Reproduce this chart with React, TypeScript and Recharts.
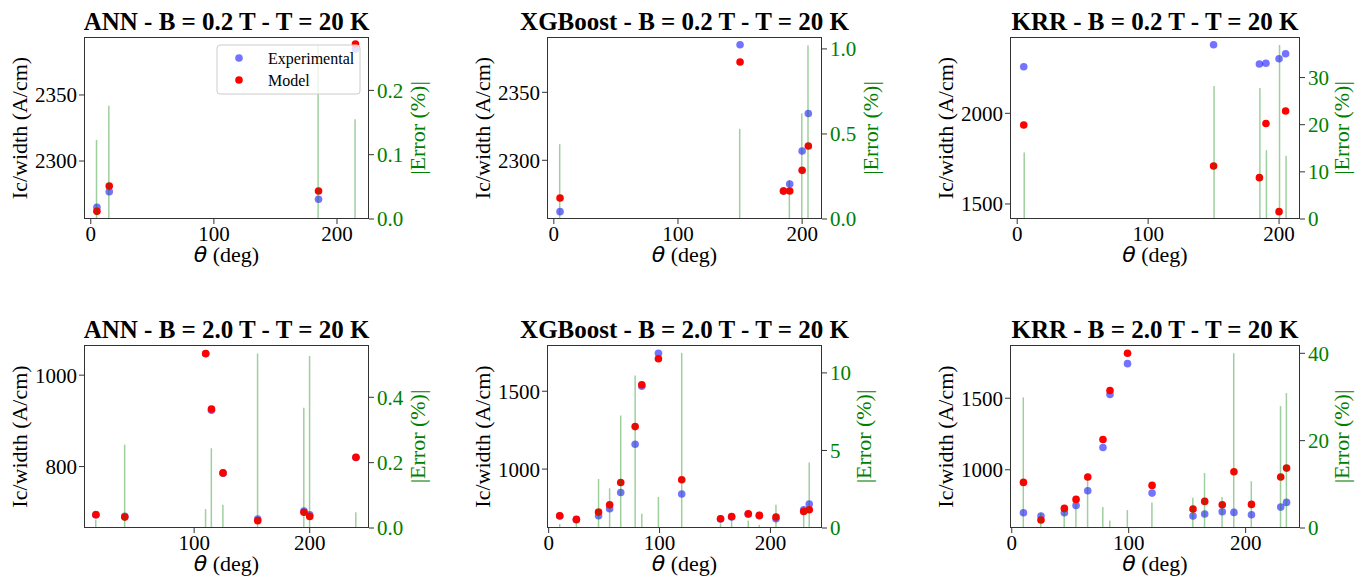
import { Bar, ComposedChart, Scatter, XAxis, YAxis } from 'recharts'

const SERIF = '"Liberation Serif", "Times New Roman", serif'
const EXP_COLOR = '#0000ff'
const MODEL_COLOR = '#ff0000'
const ERR_COLOR = '#008000'
const FRAME = '#333'
const TICK_FS = 21
const LABEL_FS = 22

// B = 0.2 T, T = 20 K
const ANN_02_THETA = [5, 15, 185, 215]
const ANN_02_EXP = [2264.9, 2276.8, 2271.0, 2384.8]
const ANN_02_MODEL = [2261.9, 2281.0, 2277.3, 2388.6]
const ANN_02_ERR = [0.123, 0.176, 0.269, 0.155]

const XGB_02_THETA = [5, 150, 185, 190, 200, 205]
const XGB_02_EXP = [2262.2, 2385.0, 2277.4, 2282.6, 2306.8, 2334.4]
const XGB_02_MODEL = [2272.3, 2372.3, 2277.4, 2277.4, 2292.6, 2310.5]
const XGB_02_ERR = [0.44, 0.53, 0, 0.23, 0.62, 1.02]

const KRR_02_THETA = [5, 150, 185, 190, 200, 205]
const KRR_02_EXP = [2257, 2378, 2272, 2276, 2301, 2328.5]
const KRR_02_MODEL = [1935.5, 1709.6, 1645, 1944, 1457.6, 2012.8]
const KRR_02_ERR = [14.1, 28.2, 27.8, 14.6, 36.9, 13.4]

// B = 2.0 T, T = 20 K
const ANN_20_THETA = [15, 40, 110, 115, 125, 155, 195, 200, 240]
const ANN_20_EXP = [694.8, 691.3, 1046.7, 923.5, 785.6, 685.4, 702.6, 694.7, 819.9]
const ANN_20_MODEL = [694.6, 689.5, 1047.3, 925.8, 786.2, 681.7, 700.0, 691.0, 820.3]
const ANN_20_ERR = [0.025, 0.255, 0.058, 0.244, 0.071, 0.534, 0.368, 0.526, 0.048]

const THETA_20 = [10, 25, 45, 55, 65, 78, 84, 99, 120, 155, 165, 180, 190, 205, 230, 235]

const XGB_20_EXP = [698.8, 674.6, 700.6, 745.5, 850, 1160, 1532, 1743.6, 839.7, 679.6, 692.3, 710, 701.2, 681.6, 739, 775.6]
const XGB_20_MODEL = [700.6, 677, 724, 771, 914, 1273, 1542, 1709, 931.4, 681.6, 696, 713.5, 702.6, 692, 728, 739]
const XGB_20_ERR = [0.26, 0.36, 3.16, 2.56, 7.25, 9.83, 0.92, 2.0, 11.29, 0.3, 0.54, 0.49, 0.2, 1.5, 1.39, 4.23]

const KRR_20_EXP = [700, 677, 700, 751, 853, 1155.8, 1525.7, 1741.8, 837, 677, 690.7, 707, 702, 686, 739.7, 772]
const KRR_20_MODEL = [911.6, 649, 730, 793, 949, 1211.6, 1553.6, 1814, 890.7, 725.6, 779, 755.7, 986, 758, 949, 1011.6]
const KRR_20_ERR = [29.9, 3.5, 4.3, 5.6, 11.2, 4.8, 1.7, 4.1, 5.85, 6.9, 12.6, 7.1, 40.0, 10.7, 27.9, 30.9]

type Box = { left: number; top: number; width: number; height: number }

type PanelProps = {
  title: string
  theta: number[]
  exp: number[]
  model: number[]
  err: number[]
  box: Box
  xDomain: [number, number]
  xTicks: number[]
  yDomain: [number, number]
  yTicks: number[]
  errDomain: [number, number]
  errTicks: number[]
  errDigits: number
  errLabelGap: number
  legend?: boolean
}

const PAD = { l: 70, r: 70, t: 10, b: 50 }
const AXIS_W = 60
const AXIS_H = 30

function dotShape (color: string, opacity: number) {
  return (p: { cx?: number; cy?: number }) => {
    if (p.cx == null || p.cy == null) return <g />
    return <circle cx={p.cx} cy={p.cy} r={3.8} fill={color} fillOpacity={opacity} />
  }
}

function Panel (props: PanelProps) {
  const { box } = props
  const data = props.theta.map((t, i) => ({ theta: t, exp: props.exp[i], model: props.model[i], err: props.err[i] }))
  const midX = box.left + box.width / 2
  const midY = box.top + box.height / 2
  const right = box.left + box.width
  const tickStyle = { fontSize: TICK_FS, fontFamily: SERIF, fill: '#000' }
  return (
    <>
      <div style={{ position: 'absolute', left: box.left - PAD.l, top: box.top - PAD.t }}>
        <ComposedChart
          width={box.width + PAD.l + PAD.r}
          height={box.height + PAD.t + PAD.b}
          data={data}
          margin={{ top: PAD.t, left: PAD.l - AXIS_W, right: PAD.r - AXIS_W, bottom: PAD.b - AXIS_H }}
        >
          <XAxis dataKey="theta" type="number" domain={props.xDomain} ticks={props.xTicks} allowDataOverflow interval={0}
            height={AXIS_H} axisLine={false} tickSize={5} tickMargin={2} stroke={FRAME} tick={tickStyle} />
          <YAxis yAxisId="left" type="number" domain={props.yDomain} ticks={props.yTicks} allowDataOverflow interval={0}
            width={AXIS_W} axisLine={false} tickSize={5} tickMargin={2} stroke={FRAME} tick={tickStyle} />
          <YAxis yAxisId="right" orientation="right" type="number" domain={props.errDomain} ticks={props.errTicks}
            allowDataOverflow interval={0} width={AXIS_W} axisLine={false} tickSize={5} tickMargin={3} stroke={FRAME}
            tick={{ ...tickStyle, fill: ERR_COLOR }} tickFormatter={(v: number) => v.toFixed(props.errDigits)} />
          <Scatter yAxisId="left" dataKey="exp" shape={dotShape(EXP_COLOR, 0.55)} isAnimationActive={false} />
          <Scatter yAxisId="left" dataKey="model" shape={dotShape(MODEL_COLOR, 1)} isAnimationActive={false} />
          <Bar yAxisId="right" dataKey="err" barSize={1.5} fill={ERR_COLOR} fillOpacity={0.38}
            isAnimationActive={false} zIndex={700} />
        </ComposedChart>
      </div>
      <div style={{
        position: 'absolute', left: box.left, top: box.top, width: box.width, height: box.height,
        border: `1px solid ${FRAME}`, boxSizing: 'border-box', pointerEvents: 'none',
      }} />
      <svg width={1368} height={585} style={{ position: 'absolute', left: 0, top: 0, pointerEvents: 'none', overflow: 'visible' }}>
        <text x={midX} y={box.top - 7} textAnchor="middle" fontSize={25} fontWeight="bold" fontFamily={SERIF}>
          {props.title}
        </text>
        <text x={box.left - 65} y={midY} transform={`rotate(-90 ${box.left - 65} ${midY})`} textAnchor="middle"
          dominantBaseline="central" fontSize={LABEL_FS} fontFamily={SERIF}>
          Ic/width (A/cm)
        </text>
        <text x={right + props.errLabelGap} y={midY} transform={`rotate(-90 ${right + props.errLabelGap} ${midY})`}
          textAnchor="middle" dominantBaseline="central" fontSize={LABEL_FS} fontFamily={SERIF} fill={ERR_COLOR}>
          |Error (%)|
        </text>
        <text x={midX} y={box.top + box.height + 43} textAnchor="middle" fontSize={LABEL_FS} fontFamily={SERIF}>
          <tspan fontFamily='"DejaVu Sans"' fontStyle="italic">θ</tspan> (deg)
        </text>
        {props.legend && (
          <g>
            <rect x={box.left + 133} y={box.top + 8} width={143} height={49} rx={3} fill="#fff" fillOpacity={0.8} stroke="#ccc" />
            <circle cx={box.left + 155} cy={box.top + 21} r={3.8} fill={EXP_COLOR} fillOpacity={0.55} />
            <circle cx={box.left + 155} cy={box.top + 43} r={3.8} fill={MODEL_COLOR} />
            <text x={box.left + 184} y={box.top + 21} dominantBaseline="central" fontSize={16} fontFamily={SERIF}>Experimental</text>
            <text x={box.left + 184} y={box.top + 43} dominantBaseline="central" fontSize={16} fontFamily={SERIF}>Model</text>
          </g>
        )}
      </svg>
    </>
  )
}

export default function App () {
  return (
    <div style={{ position: 'absolute', left: 0, top: 0, width: 1368, height: 585, background: '#fff', overflow: 'hidden' }}>
      <Panel title="ANN - B = 0.2 T - T = 20 K" theta={ANN_02_THETA} exp={ANN_02_EXP} model={ANN_02_MODEL} err={ANN_02_ERR}
        box={{ left: 84, top: 37, width: 285, height: 182 }} xDomain={[-5.5, 226]} xTicks={[0, 100, 200]}
        yDomain={[2256.1, 2393.9]} yTicks={[2300, 2350]} errDomain={[0, 0.283]} errTicks={[0, 0.1, 0.2]} errDigits={1}
        errLabelGap={48} legend />
      <Panel title="XGBoost - B = 0.2 T - T = 20 K" theta={XGB_02_THETA} exp={XGB_02_EXP} model={XGB_02_MODEL} err={XGB_02_ERR}
        box={{ left: 547, top: 37, width: 275, height: 182 }} xDomain={[-5.5, 216]} xTicks={[0, 100, 200]}
        yDomain={[2256.8, 2390.7]} yTicks={[2300, 2350]} errDomain={[0, 1.07]} errTicks={[0, 0.5, 1.0]} errDigits={1}
        errLabelGap={48} />
      <Panel title="KRR - B = 0.2 T - T = 20 K" theta={KRR_02_THETA} exp={KRR_02_EXP} model={KRR_02_MODEL} err={KRR_02_ERR}
        box={{ left: 1010, top: 37, width: 290, height: 182 }} xDomain={[-5.5, 216]} xTicks={[0, 100, 200]}
        yDomain={[1417, 2421]} yTicks={[1500, 2000]} errDomain={[0, 38.6]} errTicks={[0, 10, 20, 30]} errDigits={0}
        errLabelGap={41} />
      <Panel title="ANN - B = 2.0 T - T = 20 K" theta={ANN_20_THETA} exp={ANN_20_EXP} model={ANN_20_MODEL} err={ANN_20_ERR}
        box={{ left: 84, top: 345, width: 285, height: 183 }} xDomain={[4.7, 251.3]} xTicks={[100, 200]}
        yDomain={[665.6, 1066]} yTicks={[800, 1000]} errDomain={[0, 0.56]} errTicks={[0, 0.2, 0.4]} errDigits={1}
        errLabelGap={48} />
      <Panel title="XGBoost - B = 2.0 T - T = 20 K" theta={THETA_20} exp={XGB_20_EXP} model={XGB_20_MODEL} err={XGB_20_ERR}
        box={{ left: 547, top: 345, width: 275, height: 183 }} xDomain={[-1.5, 246.5]} xTicks={[0, 100, 200]}
        yDomain={[621.8, 1796.9]} yTicks={[1000, 1500]} errDomain={[0, 11.8]} errTicks={[0, 5, 10]} errDigits={0}
        errLabelGap={41} />
      <Panel title="KRR - B = 2.0 T - T = 20 K" theta={THETA_20} exp={KRR_20_EXP} model={KRR_20_MODEL} err={KRR_20_ERR}
        box={{ left: 1010, top: 345, width: 290, height: 183 }} xDomain={[-1.5, 246.5]} xTicks={[0, 100, 200]}
        yDomain={[593, 1872]} yTicks={[1000, 1500]} errDomain={[0, 41.9]} errTicks={[0, 20, 40]} errDigits={0}
        errLabelGap={41} />
    </div>
  )
}
